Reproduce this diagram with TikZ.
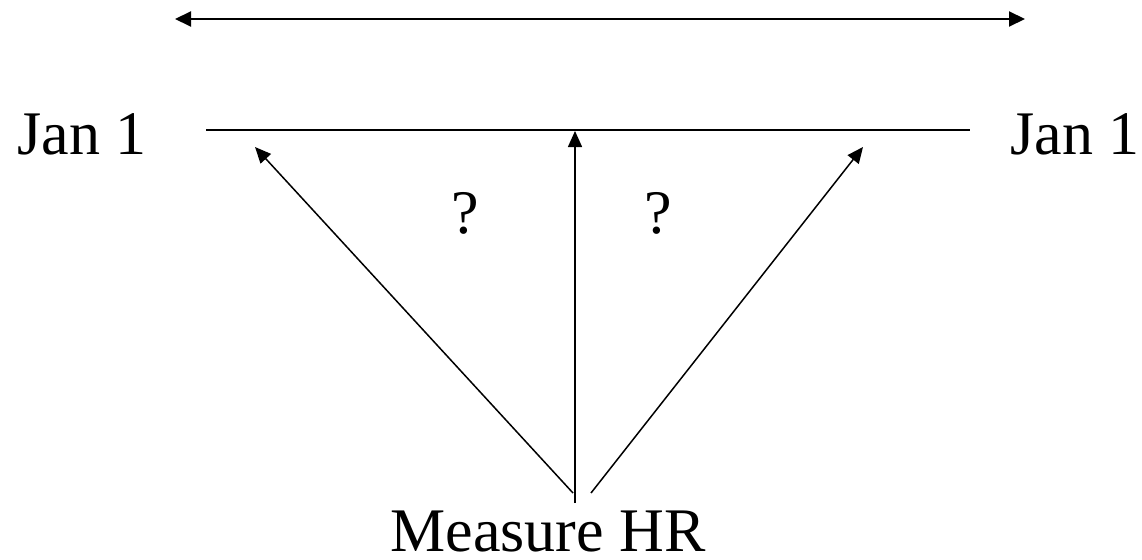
\documentclass[tikz,border=0pt]{standalone}
\usepackage{fontspec}
\setmainfont{Liberation Serif}
\usetikzlibrary{arrows.meta, positioning}
\tikzset{
  tip/.style={-{Triangle[length=16pt, width=14pt]}},
  span/.style={line width=2pt, {Triangle[length=16pt, width=15pt]}-{Triangle[length=16pt, width=15pt]}},
  ray/.style={line width=1.5pt, tip},
  lbl/.style={font=\fontsize{62}{70}\selectfont, inner sep=0pt, anchor=base},
}

\begin{document}
\begin{tikzpicture}[x=1pt, y=-1pt]
  \useasboundingbox (0,0) rectangle (1142,559);

  % year span
  \coordinate (spanL) at (175,19);
  \coordinate (spanR) at (1025,19);
  \draw[span] (spanL) -- (spanR);

  % timeline
  \node[lbl] (janL) at (82,154) {Jan 1};
  \node[lbl] (janR) at (1075,154) {Jan 1};
  \coordinate (lineL) at (206,130);
  \coordinate (lineR) at (970,130);
  \draw[line width=1.5pt] (lineL) -- (lineR);

  % measurement and arrows up to the line
  \node[lbl] (meas) at (548,551) {Measure HR};
  \coordinate (srcL) at (573,493);
  \coordinate (srcM) at (575,503);
  \coordinate (srcR) at (591,493);
  \coordinate (hitL) at (255,147);
  \coordinate (hitM) at (575,131);
  \coordinate (hitR) at (863,147);
  \draw[ray] (srcL) -- (hitL);
  \draw[ray] (srcM) -- (hitM);
  \draw[ray] (srcR) -- (hitR);

  % unknowns
  \node[lbl] (qL) at (465,233) {?};
  \node[lbl] (qR) at (658,233) {?};

\end{tikzpicture}
\end{document}
